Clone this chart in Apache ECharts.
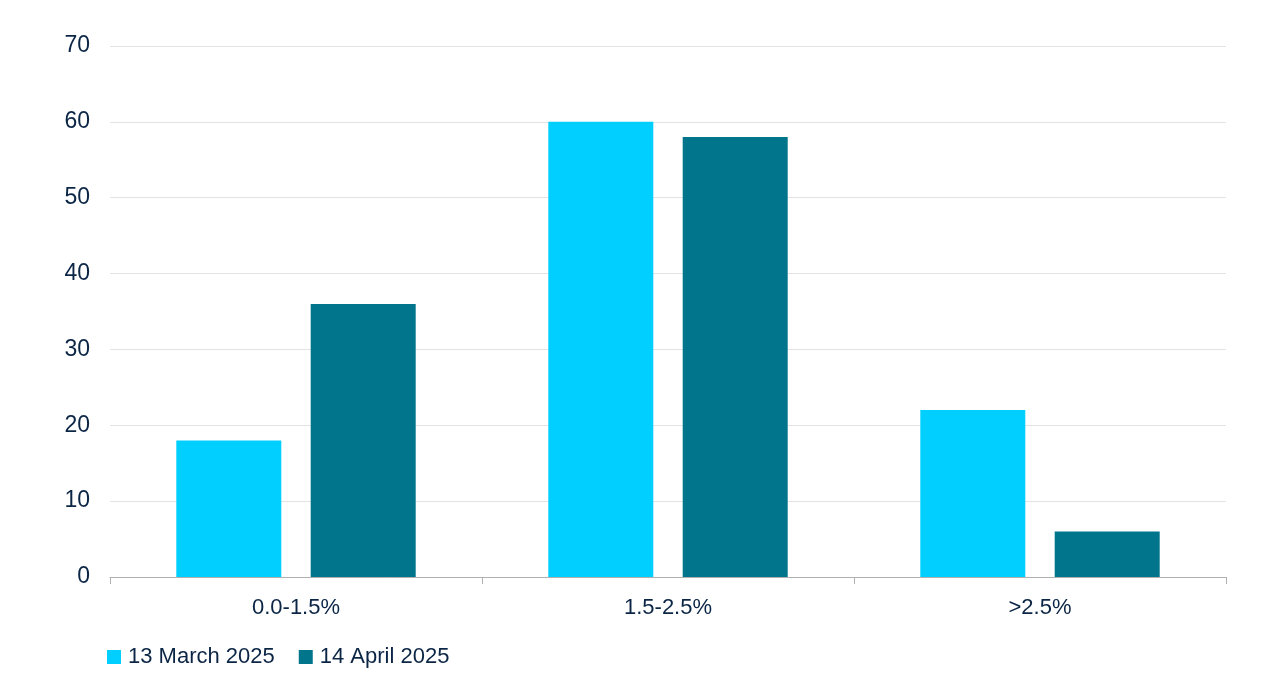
<!DOCTYPE html>
<html>
<head>
<meta charset="utf-8">
<script src="https://cdn.jsdelivr.net/npm/echarts@6/dist/echarts.min.js"></script>
<style>
  html, body { margin: 0; padding: 0; background: #fff; }
  #chart { width: 1280px; height: 699px; }
</style>
</head>
<body>
<div id="chart"></div>
<script>
var categories = ['0.0-1.5%', '1.5-2.5%', '>2.5%'];
var seriesNames = ['13 March 2025', '14 April 2025'];
var march = [18, 60, 22];
var april = [36, 58, 6];

var font = '"Liberation Sans", Arial, sans-serif';
var textColor = '#0b2545';

var myChart = echarts.init(document.getElementById('chart'));
var option = {
  animation: false,
  textStyle: { fontFamily: font },
  color: ['#00cfff', '#00758c'],
  grid: { left: 110, right: 54, top: 46, bottom: 122 },
  legend: {
    left: 102,
    top: 641,
    itemWidth: 14,
    itemHeight: 14,
    itemGap: 24,
    icon: 'rect',
    textStyle: { color: textColor, fontSize: 22, fontFamily: font, padding: [0, 0, 0, 2] },
    data: seriesNames
  },
  xAxis: {
    type: 'category',
    data: categories,
    axisLine: { lineStyle: { color: '#b0b0b0' } },
    axisTick: { show: true, length: 7, lineStyle: { color: '#b0b0b0' } },
    axisLabel: { color: textColor, fontSize: 22, margin: 20, fontFamily: font }
  },
  yAxis: {
    type: 'value',
    min: 0,
    max: 70,
    interval: 10,
    axisLine: { show: false },
    axisTick: { show: false },
    splitLine: { lineStyle: { color: '#e3e3e3' } },
    axisLabel: { color: textColor, fontSize: 23, margin: 20, fontFamily: font }
  },
  series: [
    {
      name: seriesNames[0],
      type: 'bar',
      barWidth: 105,
      barGap: '28%',
      data: march
    },
    {
      name: seriesNames[1],
      type: 'bar',
      barWidth: 105,
      data: april
    }
  ]
};
myChart.setOption(option);
window.addEventListener('resize', function() {
  myChart.resize();
});
</script>
</body>
</html>
